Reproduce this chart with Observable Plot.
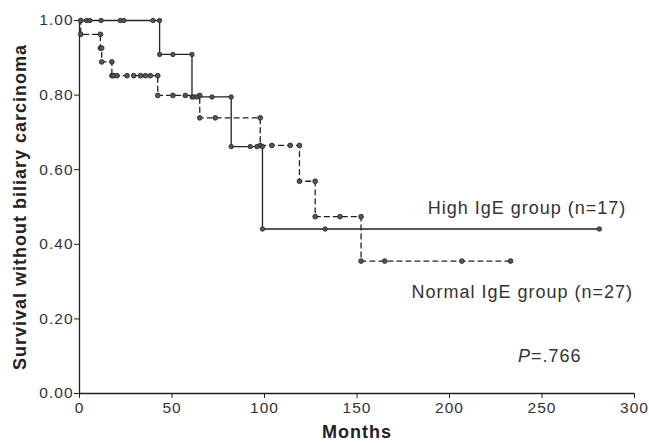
<!DOCTYPE html>
<html>
<head>
<meta charset="utf-8">
<script src="https://cdn.jsdelivr.net/npm/d3@7"></script>
<script src="https://cdn.jsdelivr.net/npm/@observablehq/plot@0.6"></script>
<style>
  html, body { margin: 0; padding: 0; background: #fff; }
  #chart svg { display: block; }
  #chart svg text { letter-spacing: 1px; }
</style>
</head>
<body>
<div id="chart"></div>
<script>
// ---- Data ----
const xTicks = [0, 50, 100, 150, 200, 250, 300];
const yTicks = [0, 0.2, 0.4, 0.6, 0.8, 1.0];

// High IgE group (n=17), solid line
const highEventMonths = [43.3, 60.8, 82.0, 98.9];
const highSurvival    = [0.909, 0.795, 0.662, 0.441];
const highCensorMonths = [3.8, 5.6, 11.7, 22.0, 24.0, 39.7, 50.5, 61.7, 63.5, 71.6, 92.3, 95.9, 132.8, 281.0];

// Normal IgE group (n=27), dashed line
const normalEventMonths = [0.7, 11.3, 12.0, 17.5, 42.3, 65.0, 97.7, 118.9, 127.4, 152.2];
const normalSurvival    = [0.963, 0.926, 0.889, 0.852, 0.799, 0.739, 0.665, 0.569, 0.474, 0.355];
const normalCensorMonths = [18.5, 20.3, 25.7, 29.3, 32.9, 35.6, 38.3, 50.5, 57.2, 73.4, 104.0, 113.9, 140.8, 165.0, 206.7, 233.0];

const labels = [
  {text: "High IgE group (n=17)", month: 241.9, surv: 0.496},
  {text: "Normal IgE group (n=27)", month: 239.3, surv: 0.271}
];
const pLabel = {p: "P", rest: "=.766", month: 244.0, surv: 0.099};

// ---- Build step paths from the KM data ----
function stepPath(events, surv, censors) {
  const pts = [{m: 0, s: 1}];
  let prev = 1;
  events.forEach((t, i) => {
    pts.push({m: t, s: prev});
    pts.push({m: t, s: surv[i]});
    prev = surv[i];
  });
  const end = Math.max(...censors, ...events);
  pts.push({m: end, s: prev});
  return pts;
}
function survAt(events, surv, t) {
  let s = 1;
  events.forEach((e, i) => { if (e <= t) s = surv[i]; });
  return s;
}
function markers(events, surv, censors) {
  const pts = [];
  let prev = 1;
  events.forEach((t, i) => {
    pts.push({m: t, s: prev});
    pts.push({m: t, s: surv[i]});
    prev = surv[i];
  });
  censors.forEach(t => pts.push({m: t, s: survAt(events, surv, t)}));
  return pts;
}

const highPath = stepPath(highEventMonths, highSurvival, highCensorMonths);
const normalPath = stepPath(normalEventMonths, normalSurvival, normalCensorMonths);
const highDots = markers(highEventMonths, highSurvival, highCensorMonths);
const normalDots = markers(normalEventMonths, normalSurvival, normalCensorMonths);

const ink = "#222";

const chart = Plot.plot({
  width: 649,
  height: 444,
  marginLeft: 79,
  marginRight: 15,
  marginTop: 20,
  marginBottom: 51,
  style: {fontFamily: "'Liberation Sans', Arial, sans-serif", background: "#fff", color: ink},
  x: {domain: [0, 300], ticks: xTicks, label: null},
  y: {domain: [0, 1], ticks: yTicks, label: null},
  marks: [
    Plot.axisX({ticks: xTicks, tickSize: 5, fontSize: 15.5, tickPadding: 3, stroke: ink, fill: "#333", label: null}),
    Plot.axisY({ticks: yTicks, tickSize: 5, fontSize: 15.5, tickPadding: 1, tickFormat: d3.format(".2f"), stroke: ink, fill: "#333", label: null}),
    Plot.ruleX([0], {stroke: ink, strokeWidth: 1.3}),
    Plot.ruleY([0], {stroke: ink, strokeWidth: 1.3}),
    Plot.line(normalPath, {x: "m", y: "s", stroke: ink, strokeWidth: 1.3, strokeDasharray: "5,4"}),
    Plot.line(highPath, {x: "m", y: "s", stroke: ink, strokeWidth: 1.3}),
    Plot.dot(normalDots, {x: "m", y: "s", r: 2.4, fill: "#555", stroke: ink, strokeWidth: 0.8}),
    Plot.dot(highDots, {x: "m", y: "s", r: 2.2, fill: "#555", stroke: ink, strokeWidth: 0.8}),
    Plot.text(labels, {x: "month", y: "surv", text: "text", fontSize: 18, fill: "#333", textAnchor: "middle"}),
    Plot.text([pLabel], {x: "month", y: "surv", text: "p", fontSize: 18, fill: "#333", textAnchor: "end", fontStyle: "italic"}),
    Plot.text([pLabel], {x: "month", y: "surv", text: "rest", fontSize: 18, fill: "#333", textAnchor: "start"}),
    Plot.text(["Survival without biliary carcinoma"], {frameAnchor: "left", dx: -59, textAnchor: "middle", rotate: -90, fontSize: 18, fontWeight: "bold", fill: ink}),
    Plot.text(["Months"], {frameAnchor: "bottom", dy: 44, textAnchor: "middle", fontSize: 18, fontWeight: "bold", fill: ink})
  ]
});

document.getElementById("chart").appendChild(chart);
</script>
</body>
</html>
